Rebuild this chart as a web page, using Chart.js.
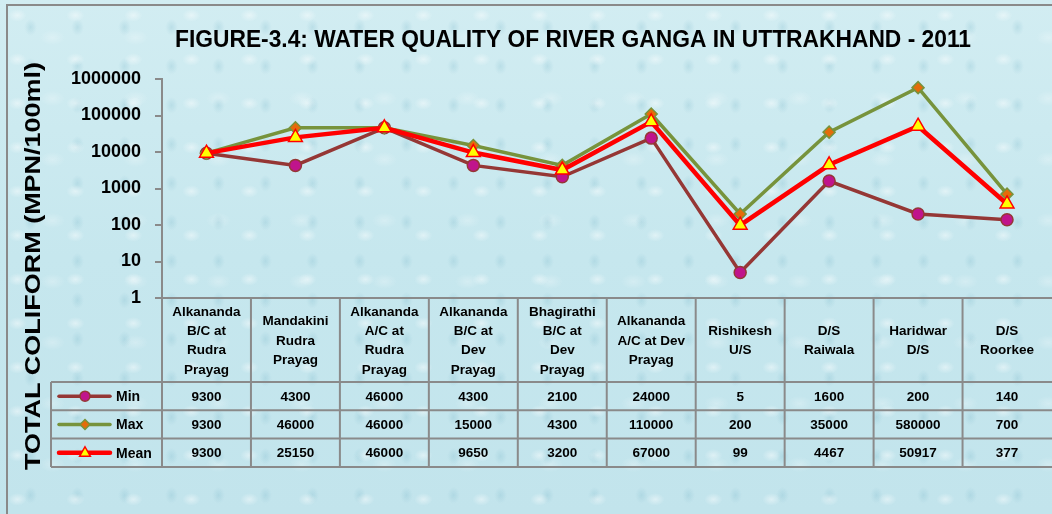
<!DOCTYPE html>
<html>
<head>
<meta charset="utf-8">
<script src="https://cdn.jsdelivr.net/npm/chart.js@4.4.1/dist/chart.umd.min.js"></script>
<style>
  html, body { margin: 0; padding: 0; }
  body { width: 1052px; height: 514px; overflow: hidden; background: #fff; }
  #wrap {
    position: relative;
    width: 1052px; height: 514px; overflow: hidden;
    background:
      radial-gradient(ellipse 13px 9px at 30% 35%, rgba(255,255,255,0.45), rgba(255,255,255,0) 70%) 0 0 / 58px 44px,
      radial-gradient(ellipse 9px 12px at 65% 70%, rgba(110,175,195,0.22), rgba(110,175,195,0) 70%) 0 0 / 47px 39px,
      radial-gradient(ellipse 18px 11px at 50% 50%, rgba(255,255,255,0.25), rgba(255,255,255,0) 70%) 11px 7px / 83px 61px,
      linear-gradient(180deg, #d2edf2 0%, #c6e7ee 50%, #c2e4ec 100%);
  }
  #frame {
    position: absolute; left: 6px; top: 4px; width: 1060px; height: 530px;
    border: 2px solid #8a8a8a; box-sizing: border-box;
  }
  canvas { position: absolute; left: 0; top: 0; }
</style>
</head>
<body>
<div id="wrap">
  <div id="frame"></div>
  <canvas id="gangaChart" width="1061" height="514"></canvas>
</div>
<script>
// --- Data ---
const categories = [
    ['Alkananda', 'B/C at', 'Rudra', 'Prayag'],
    ['Mandakini', 'Rudra', 'Prayag'],
    ['Alkananda', 'A/C at', 'Rudra', 'Prayag'],
    ['Alkananda', 'B/C at', 'Dev', 'Prayag'],
    ['Bhagirathi', 'B/C at', 'Dev', 'Prayag'],
    ['Alkananda', 'A/C at Dev', 'Prayag'],
    ['Rishikesh', 'U/S'],
    ['D/S', 'Raiwala'],
    ['Haridwar', 'D/S'],
    ['D/S', 'Roorkee']
];
const minVals  = [9300, 4300, 46000, 4300, 2100, 24000, 5, 1600, 200, 140];
const maxVals  = [9300, 46000, 46000, 15000, 4300, 110000, 200, 35000, 580000, 700];
const meanVals = [9300, 25150, 46000, 9650, 3200, 67000, 99, 4467, 50917, 377];
const yTicks = [1, 10, 100, 1000, 10000, 100000, 1000000];

const chartTitle = 'FIGURE-3.4: WATER QUALITY OF RIVER GANGA IN UTTRAKHAND - 2011';
const yTitle = 'TOTAL COLIFORM (MPN/100ml)';

const FONT = "'Liberation Sans', Arial, sans-serif";
const GRID = '#8a8a8a';

// series styles
const series = [
    { label: 'Min',  data: minVals,  line: '#953735', fill: '#c0148c', style: 'circle',  width: 3.5, radius: 6, order: 2 },
    { label: 'Max',  data: maxVals,  line: '#77933c', fill: '#e46c0a', style: 'rectRot', width: 3.5, radius: 6, order: 1 },
    { label: 'Mean', data: meanVals, line: '#ff0000', fill: '#ffff00', style: 'triangle', width: 4.5, radius: 8, order: 0 }
];

// draws a marker for the legend keys
function drawMarker(ctx, s, x, y, r) {
    ctx.save();
    ctx.fillStyle = s.fill;
    ctx.strokeStyle = s.line;
    ctx.lineWidth = 1.5;
    ctx.beginPath();
    if (s.style === 'circle') {
        ctx.arc(x, y, r, 0, Math.PI * 2);
    } else if (s.style === 'rectRot') {
        ctx.moveTo(x, y - r); ctx.lineTo(x + r, y); ctx.lineTo(x, y + r); ctx.lineTo(x - r, y);
        ctx.closePath();
    } else {
        ctx.moveTo(x, y - r); ctx.lineTo(x + r * 0.9, y + r * 0.6); ctx.lineTo(x - r * 0.9, y + r * 0.6);
        ctx.closePath();
    }
    ctx.fill();
    ctx.stroke();
    ctx.restore();
}

// text squeezed to a given width (Calibri-like narrow look)
function fitText(ctx, text, x, y, width) {
    const w = ctx.measureText(text).width;
    ctx.save();
    ctx.translate(x, y);
    ctx.scale(width / w, 1);
    ctx.fillText(text, 0, 0);
    ctx.restore();
}

// === Titles + data table plugin ===
const tablePlugin = {
    id: 'dataTable',
    afterDraw(chart) {
        const ctx = chart.ctx;
        const xs = chart.scales.x;
        const area = chart.chartArea;
        const n = categories.length;
        const colW = xs.width / n;
        const top = area.bottom;
        const headH = 84;
        const rowH = 28.3;
        const legendLeft = 51;
        const bottom = top + headH + rowH * 3;

        ctx.save();
        ctx.fillStyle = '#000';

        // chart title
        ctx.font = 'bold 23px ' + FONT;
        ctx.textAlign = 'center';
        ctx.textBaseline = 'middle';
        fitText(ctx, chartTitle, 573, 41, 796);

        // y-axis title
        ctx.save();
        ctx.translate(34, 266);
        ctx.rotate(-Math.PI / 2);
        ctx.font = 'bold 22px ' + FONT;
        fitText(ctx, yTitle, 0, 0, 408);
        ctx.restore();

        // grid (right edge of table is cut off in the original)
        ctx.strokeStyle = GRID;
        ctx.lineWidth = 2;
        ctx.beginPath();
        ctx.moveTo(area.left, top); ctx.lineTo(area.right + 2, top);
        for (let r = 0; r <= 3; r++) {
            const y = top + headH + rowH * r;
            ctx.moveTo(legendLeft, y); ctx.lineTo(area.right + 2, y);
        }
        for (let i = 0; i < n; i++) {
            const x = area.left + colW * i;
            ctx.moveTo(x, top); ctx.lineTo(x, bottom);
        }
        ctx.moveTo(legendLeft, top + headH); ctx.lineTo(legendLeft, bottom);
        ctx.stroke();

        // header labels
        ctx.font = 'bold 13.5px ' + FONT;
        ctx.textAlign = 'center';
        const lineH = 19.3;
        categories.forEach((lines, i) => {
            const cx = xs.getPixelForValue(i);
            const y0 = top + headH / 2 - (lines.length - 1) * lineH / 2;
            lines.forEach((t, k) => ctx.fillText(t, cx, y0 + k * lineH + 1));
        });

        // values + legend keys
        series.forEach((s, r) => {
            const cy = top + headH + rowH * r + rowH / 2 + 1;
            s.data.forEach((v, i) => {
                ctx.fillText(String(v), xs.getPixelForValue(i), cy);
            });
            ctx.save();
            ctx.strokeStyle = s.line;
            ctx.lineWidth = s.width;
            ctx.lineCap = 'round';
            ctx.beginPath();
            ctx.moveTo(59, cy - 1); ctx.lineTo(110, cy - 1);
            ctx.stroke();
            ctx.restore();
            drawMarker(ctx, s, 85, cy - 1, s.style === 'triangle' ? 6 : 5);
            ctx.save();
            ctx.textAlign = 'left';
            ctx.font = 'bold 14px ' + FONT;
            ctx.fillText(s.label, 116, cy);
            ctx.restore();
        });

        ctx.restore();
    }
};

// === Line chart (log scale) ===
const ctx = document.getElementById('gangaChart').getContext('2d');
new Chart(ctx, {
    type: 'line',
    data: {
        labels: categories,
        datasets: series.map(s => ({
            label: s.label,
            data: s.data,
            borderColor: s.line,
            backgroundColor: s.fill,
            borderWidth: s.width,
            pointStyle: s.style,
            pointRadius: s.radius,
            pointBackgroundColor: s.fill,
            pointBorderColor: s.line,
            pointBorderWidth: 1.5,
            tension: 0,
            fill: false,
            order: s.order
        }))
    },
    options: {
        responsive: false,
        animation: false,
        layout: { padding: { top: 79, bottom: 216, left: 0, right: 0 } },
        plugins: {
            legend: { display: false },
            tooltip: { enabled: false }
        },
        scales: {
            x: { display: false, offset: true },
            y: {
                type: 'logarithmic',
                min: 1,
                max: 1000000,
                afterBuildTicks: scale => { scale.ticks = yTicks.map(v => ({ value: v })); },
                afterFit: scale => { scale.width = 162; },
                ticks: {
                    color: '#000',
                    padding: 14,
                    font: { family: FONT, size: 18, weight: 'bold' },
                    callback: v => String(v)
                },
                grid: {
                    drawOnChartArea: false,
                    drawTicks: true,
                    tickLength: 7,
                    color: GRID,
                    lineWidth: 2
                },
                border: { color: GRID, width: 2 }
            }
        }
    },
    plugins: [tablePlugin]
});
</script>
</body>
</html>
